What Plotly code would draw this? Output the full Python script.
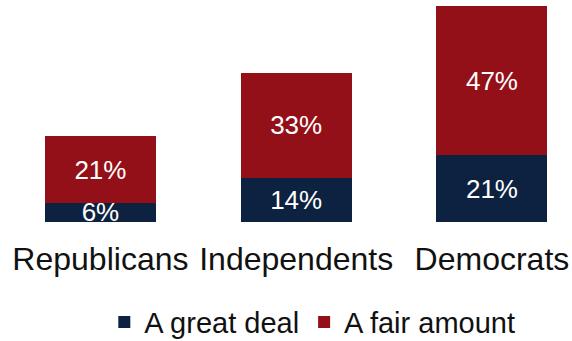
import plotly.graph_objects as go

# Share of each party saying "a great deal" / "a fair amount"
parties = ["Republicans", "Independents", "Democrats"]
great_deal = [6, 14, 21]
fair_amount = [21, 33, 47]

NAVY = "#0d2240"
RED = "#941018"
FONT = "Liberation Sans, Arial, sans-serif"

fig = go.Figure()
for name, vals, color in [
    ("A great deal", great_deal, NAVY),
    ("A fair amount", fair_amount, RED),
]:
    fig.add_trace(go.Bar(
        x=parties,
        y=vals,
        name=name,
        marker=dict(color=color, line=dict(width=0)),
        text=[f"{v}%" for v in vals],
        textposition="inside",
        insidetextanchor="middle",
        textangle=0,
        constraintext="none",
        textfont=dict(family=FONT, size=26, color="white"),
        hoverinfo="skip",
    ))

fig.update_layout(
    barmode="stack",
    bargap=0.433,
    width=572,
    height=341,
    margin=dict(l=0, r=0, t=0, b=119, autoexpand=False),
    paper_bgcolor="white",
    plot_bgcolor="white",
    font=dict(family=FONT, color="#111111"),
    showlegend=True,
    legend=dict(
        orientation="h",
        x=0.546,
        xanchor="center",
        yref="container",
        y=0.055,
        yanchor="middle",
        font=dict(family=FONT, size=29, color="#111111"),
        itemwidth=30,
        traceorder="normal",
        bgcolor="rgba(0,0,0,0)",
    ),
    xaxis=dict(
        range=[-0.513, 2.409],
        showline=False,
        showgrid=False,
        zeroline=False,
        ticks="",
        tickfont=dict(family=FONT, size=32, color="#111111"),
        ticklabelstandoff=15,
        automargin=False,
        fixedrange=True,
    ),
    yaxis=dict(
        range=[0, 69.9],
        visible=False,
        fixedrange=True,
    ),
)

fig.write_html("out.html")
